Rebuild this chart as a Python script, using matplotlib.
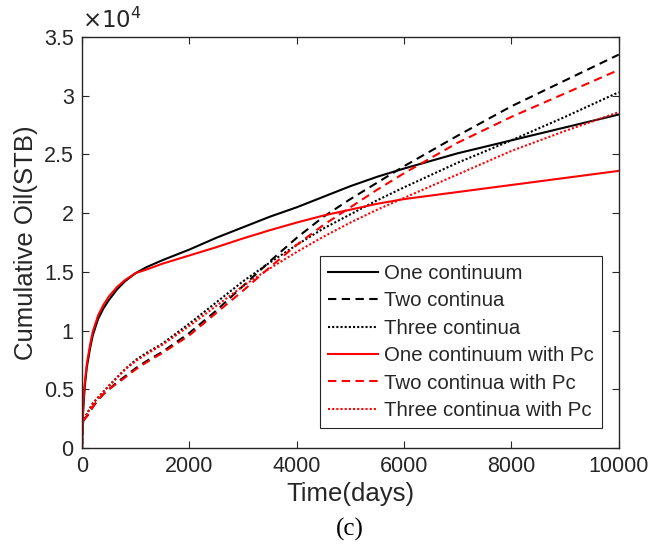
import matplotlib
matplotlib.use("Agg")
import matplotlib.pyplot as plt
from matplotlib.ticker import FuncFormatter

# time (days) and cumulative oil in units of 1e4 STB
days = [0, 10, 25, 50, 90, 150, 200, 300, 400, 500, 650, 800, 1000, 1200,
        1500, 2000, 2500, 3000, 3500, 4000, 4500, 5000, 5500, 6000,
        7000, 8000, 9000, 10000]

one_cont = [0, 0.20, 0.35, 0.52, 0.69, 0.85, 0.96, 1.10, 1.19, 1.26, 1.35, 1.42, 1.49, 1.54,
            1.60, 1.69, 1.79, 1.88, 1.97, 2.05, 2.14, 2.23, 2.31, 2.38,
            2.51, 2.62, 2.73, 2.84]
two_cont = [0, 0.20, 0.23, 0.25, 0.27, 0.31, 0.35, 0.41, 0.46, 0.50, 0.56, 0.61, 0.68, 0.74,
            0.82, 0.98, 1.17, 1.38, 1.59, 1.79, 1.97, 2.12, 2.26, 2.40,
            2.66, 2.91, 3.13, 3.35]
three_cont = [0, 0.20, 0.23, 0.26, 0.29, 0.34, 0.38, 0.43, 0.48, 0.53, 0.60, 0.67, 0.75, 0.81,
              0.89, 1.06, 1.24, 1.42, 1.58, 1.73, 1.87, 1.99, 2.11, 2.22,
              2.43, 2.62, 2.82, 3.03]
one_cont_pc = [0, 0.22, 0.38, 0.55, 0.72, 0.88, 0.99, 1.13, 1.22, 1.29, 1.37, 1.43, 1.49, 1.52,
               1.57, 1.64, 1.71, 1.785, 1.855, 1.92, 1.98, 2.03, 2.08, 2.12,
               2.18, 2.24, 2.30, 2.36]
two_cont_pc = [0, 0.20, 0.23, 0.25, 0.27, 0.31, 0.35, 0.41, 0.46, 0.50, 0.55, 0.60, 0.67, 0.73,
               0.81, 0.96, 1.15, 1.34, 1.54, 1.73, 1.90, 2.05, 2.20, 2.34,
               2.60, 2.82, 3.02, 3.22]
three_cont_pc = [0, 0.20, 0.23, 0.26, 0.29, 0.34, 0.38, 0.43, 0.48, 0.53, 0.60, 0.67, 0.74, 0.80,
                 0.88, 1.04, 1.21, 1.38, 1.53, 1.67, 1.80, 1.92, 2.03, 2.13,
                 2.33, 2.53, 2.70, 2.86]

labels = ["One continuum", "Two continua", "Three continua",
          "One continuum with Pc", "Two continua with Pc", "Three continua with Pc"]

plt.rcParams['font.family'] = ['Liberation Sans', 'DejaVu Sans']
grey = '#262626'
dash = (0, (4, 2.6))
dot = (0, (1, 1))

fig = plt.figure(figsize=(6.52, 5.58), dpi=100)
ax = fig.add_axes([0.1258, 0.197, 0.8232, 0.7367])

lw = 1.5
ax.plot(days, one_cont, color='k', lw=lw, label=labels[0])
ax.plot(days, two_cont, color='k', lw=lw, ls=dash, label=labels[1])
ax.plot(days, three_cont, color='k', lw=lw, ls=dot, label=labels[2])
ax.plot(days, one_cont_pc, color='r', lw=lw, label=labels[3])
ax.plot(days, two_cont_pc, color='r', lw=lw, ls=dash, label=labels[4])
ax.plot(days, three_cont_pc, color='r', lw=lw, ls=dot, label=labels[5])

ax.set_xlim(0, 10000)
ax.set_ylim(0, 3.5)
ax.set_xticks(range(0, 10001, 2000))
ax.set_yticks([0, 0.5, 1, 1.5, 2, 2.5, 3, 3.5])
ax.yaxis.set_major_formatter(FuncFormatter(lambda v, p: '%g' % v))

ax.tick_params(direction='in', top=True, right=True, length=5, width=0.8,
               colors=grey, labelsize=15.5, pad=6)
for s in ax.spines.values():
    s.set_color(grey)
    s.set_linewidth(1.0)

ax.set_xlabel("Time(days)", fontsize=18.5, color=grey, labelpad=3)
ax.set_ylabel("Cumulative Oil(STB)", fontsize=18.5, color=grey, labelpad=4)
ax.text(0.0, 1.01, r"$\times10^4$", transform=ax.transAxes, fontsize=16.5,
        color=grey, ha='left', va='bottom')

leg = ax.legend(loc='lower right', bbox_to_anchor=(0.968, 0.0487), fontsize=14.7,
                frameon=True, fancybox=False, edgecolor=grey, framealpha=1,
                handlelength=2.45, handletextpad=0.25, labelspacing=0.41,
                borderpad=0.4, borderaxespad=0)
leg.get_frame().set_linewidth(0.8)
for t in leg.get_texts():
    t.set_color(grey)

fig.text(0.537, 0.03, "(c)", fontsize=18, family='Liberation Serif',
         ha='center', va='bottom', color='k')

fig.savefig("out.png", dpi=100)
